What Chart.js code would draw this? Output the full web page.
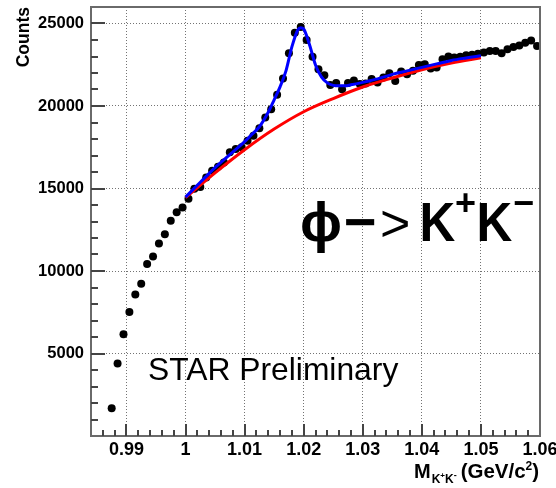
<!DOCTYPE html>
<html>
<head>
<meta charset="utf-8">
<title>phi -> K+K- invariant mass</title>
<script src="https://cdn.jsdelivr.net/npm/chart.js@4.4.1/dist/chart.umd.min.js"></script>
<style>
  html, body { margin: 0; padding: 0; background: #fff; }
  #massChart { display: block; }
</style>
</head>
<body>
<canvas id="massChart" width="556" height="488"></canvas>
<script>
// K+K- invariant mass bin centres (GeV/c^2) and counts per bin
const massBins = [
  0.9875, 0.9885, 0.9895, 0.9905, 0.9915, 0.9925, 0.9935, 0.9945, 0.9955, 0.9965,
  0.9975, 0.9985, 0.9995, 1.0005, 1.0015, 1.0025, 1.0035, 1.0045, 1.0055, 1.0065,
  1.0075, 1.0085, 1.0095, 1.0105, 1.0115, 1.0125, 1.0135, 1.0145, 1.0155, 1.0165,
  1.0175, 1.0185, 1.0195, 1.0205, 1.0215, 1.0225, 1.0235, 1.0245, 1.0255, 1.0265,
  1.0275, 1.0285, 1.0295, 1.0305, 1.0315, 1.0325, 1.0335, 1.0345, 1.0355, 1.0365,
  1.0375, 1.0385, 1.0395, 1.0405, 1.0415, 1.0425, 1.0435, 1.0445, 1.0455, 1.0465,
  1.0475, 1.0485, 1.0495, 1.0505, 1.0515, 1.0525, 1.0535, 1.0545, 1.0555, 1.0565,
  1.0575, 1.0585, 1.0595
];
const counts = [
  1680, 4400, 6170, 7520, 8570, 9230, 10420, 10880, 11670, 12230,
  13040, 13560, 13850, 14380, 14990, 15090, 15660, 16080, 16320, 16570,
  17190, 17390, 17500, 17900, 18200, 18650, 19300, 19810, 20680, 21660,
  23200, 24440, 24790, 24000, 22980, 22230, 21870, 21280, 21390, 21010,
  21400, 21550, 21340, 21370, 21630, 21430, 21720, 21980, 21520, 22090,
  21930, 22130, 22490, 22530, 22280, 22340, 22840, 23000, 22940, 22980,
  23070, 23100, 23160, 23250, 23340, 23340, 23190, 23440, 23580, 23670,
  23840, 23970, 23640
];

// total fit: phi peak on top of the background
const fitMass = [
  1.000, 1.0025, 1.005, 1.0075, 1.010, 1.011, 1.0125, 1.014, 1.015, 1.016,
  1.017, 1.018, 1.019, 1.0195, 1.020, 1.021, 1.022, 1.023, 1.024, 1.025,
  1.026, 1.027, 1.028, 1.030, 1.0325, 1.035, 1.0375, 1.040, 1.0425, 1.045,
  1.0475, 1.050
];
const fitCounts = [
  14480, 15375, 16264, 17050, 17836, 18198, 18742, 19619, 20375, 21161,
  22128, 23579, 24607, 24746, 24667, 23700, 22491, 21765, 21403, 21252,
  21221, 21221, 21282, 21433, 21644, 21917, 22128, 22340, 22551, 22763,
  22914, 23047
];

// residual background
const bgMass = [1.000, 1.005, 1.010, 1.015, 1.020, 1.025, 1.030, 1.035, 1.040, 1.045, 1.050];
const bgCounts = [14450, 15950, 17350, 18600, 19650, 20450, 21150, 21700, 22200, 22600, 22920];

const xTickValues = [0.99, 1.00, 1.01, 1.02, 1.03, 1.04, 1.05, 1.06];
const xTickLabels = ['0.99', '1', '1.01', '1.02', '1.03', '1.04', '1.05', '1.06'];
const yTickValues = [5000, 10000, 15000, 20000, 25000];
const yTickLabels = ['5000', '10000', '15000', '20000', '25000'];

const FONT = "'Liberation Sans', Arial, Helvetica, sans-serif";

function toPoints(xs, ys) {
  return xs.map((x, i) => ({ x: x, y: ys[i] }));
}

// draw a glyph squeezed horizontally
function narrowText(ctx, txt, x, y, sx) {
  ctx.save();
  ctx.translate(x, y);
  ctx.scale(sx, 1);
  ctx.fillText(txt, 0, 0);
  ctx.restore();
}

// frame, inward tick marks and all the free text
const rootStyle = {
  id: 'rootStyle',
  afterDraw(chart) {
    const { ctx, chartArea: a, scales: { x, y } } = chart;
    ctx.save();

    ctx.strokeStyle = '#6a6a6a';
    ctx.lineWidth = 2;
    ctx.strokeRect(a.left, a.top, a.right - a.left, a.bottom - a.top);

    ctx.strokeStyle = '#444';
    ctx.lineWidth = 2;
    ctx.beginPath();
    for (let v = 1000; v < 26000; v += 1000) {
      const py = Math.round(y.getPixelForValue(v));
      const len = v % 5000 === 0 ? 14 : 7;
      ctx.moveTo(a.left, py);
      ctx.lineTo(a.left + len, py);
    }
    for (let i = 493; i < 530; i++) {
      const px = Math.round(x.getPixelForValue(i * 0.002));
      const len = i % 5 === 0 ? 12 : 6;
      ctx.moveTo(px, a.bottom);
      ctx.lineTo(px, a.bottom - len);
    }
    ctx.stroke();

    ctx.fillStyle = '#000';
    ctx.textBaseline = 'alphabetic';

    // y title, rotated, flush with the top of the frame
    ctx.save();
    ctx.translate(28.5, 7);
    ctx.rotate(-Math.PI / 2);
    ctx.textAlign = 'right';
    ctx.font = 'bold 17.5px ' + FONT;
    ctx.fillText('Counts', 0, 0);
    ctx.restore();

    // x title: M_{K+K-} (GeV/c^2)
    ctx.textAlign = 'left';
    let cx = 414;
    const base = 477.5;
    const piece = (txt, font, dy) => {
      ctx.font = font;
      ctx.fillText(txt, cx, base + dy);
      cx += ctx.measureText(txt).width;
    };
    piece('M', 'bold 20px ' + FONT, 0);
    cx += 1;
    piece('K', 'bold 12px ' + FONT, 5.5);
    piece('+', 'bold 8px ' + FONT, 0);
    piece('K', 'bold 12px ' + FONT, 5.5);
    piece('-', 'bold 9px ' + FONT, 0);
    cx += 4;
    piece('(GeV/c', 'bold 20.5px ' + FONT, 0);
    piece('2', 'bold 12px ' + FONT, -8);
    piece(')', 'bold 20.5px ' + FONT, 0);

    // decay label
    ctx.font = 'bold 56px ' + FONT;
    ctx.fillText('\u03D5', 300, 241);
    ctx.fillText('\u2212', 344, 241);
    ctx.font = '52px ' + FONT;
    ctx.fillText('>', 380, 241);
    ctx.font = 'bold 55px ' + FONT;
    narrowText(ctx, 'K', 419.5, 241, 0.9);
    narrowText(ctx, 'K', 476.5, 241, 0.9);
    ctx.font = 'bold 36px ' + FONT;
    ctx.fillText('+', 455, 215);
    ctx.fillText('\u2212', 513, 215);

    ctx.font = '31.8px ' + FONT;
    ctx.fillText('STAR Preliminary', 148, 380);

    ctx.restore();
  }
};

new Chart(document.getElementById('massChart'), {
  type: 'scatter',
  data: {
    datasets: [
      {
        label: 'data',
        data: toPoints(massBins, counts),
        backgroundColor: '#000',
        borderWidth: 0,
        pointRadius: 4,
        showLine: false,
        order: 3
      },
      {
        label: 'background',
        data: toPoints(bgMass, bgCounts),
        borderColor: '#ff0000',
        borderWidth: 3,
        pointRadius: 0,
        showLine: true,
        cubicInterpolationMode: 'monotone',
        order: 2
      },
      {
        label: 'fit',
        data: toPoints(fitMass, fitCounts),
        borderColor: '#0000ff',
        borderWidth: 3,
        pointRadius: 0,
        showLine: true,
        cubicInterpolationMode: 'monotone',
        order: 1
      }
    ]
  },
  options: {
    responsive: false,
    animation: false,
    events: [],
    layout: { padding: { left: 0, right: 16, top: 7, bottom: 0 } },
    plugins: {
      legend: { display: false },
      tooltip: { enabled: false }
    },
    scales: {
      x: {
        type: 'linear',
        min: 0.984,
        max: 1.06,
        afterBuildTicks: s => { s.ticks = xTickValues.map(v => ({ value: v })); },
        afterFit: s => { s.height = 52; s.paddingLeft = 0; s.paddingRight = 0; },
        ticks: {
          autoSkip: false,
          maxRotation: 0,
          padding: 3,
          color: '#000',
          font: { family: FONT, size: 18, weight: 'bold' },
          callback: (v, i) => xTickLabels[i]
        },
        grid: { color: 'rgba(0,0,0,0.55)', lineWidth: 1, drawTicks: false },
        border: { display: false, dash: [1, 2] }
      },
      y: {
        type: 'linear',
        min: 0,
        max: 26000,
        afterBuildTicks: s => { s.ticks = yTickValues.map(v => ({ value: v })); },
        afterFit: s => { s.width = 91; s.paddingTop = 0; s.paddingBottom = 0; },
        ticks: {
          padding: 7,
          color: '#000',
          font: { family: FONT, size: 16.5, weight: 'bold' },
          callback: (v, i) => yTickLabels[i]
        },
        grid: { color: 'rgba(0,0,0,0.55)', lineWidth: 1, drawTicks: false },
        border: { display: false, dash: [1, 2] }
      }
    }
  },
  plugins: [rootStyle]
});
</script>
</body>
</html>
